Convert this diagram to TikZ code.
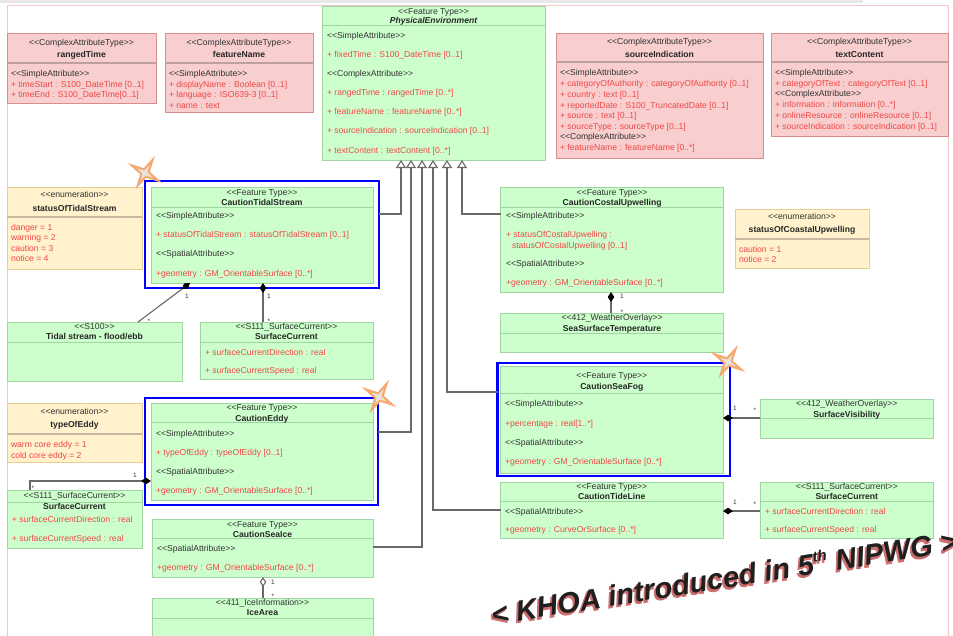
\documentclass[tikz,border=0pt]{standalone}
\usepackage{fontspec}
\newfontfamily\umlfont{Liberation Sans}
\newfontfamily\khoashfont{Liberation Sans}[FakeBold=2.5]
\usetikzlibrary{arrows.meta}
\definecolor{pinkfill}{RGB}{248,206,206}
\definecolor{pinkline}{RGB}{214,142,142}
\definecolor{pinkdivc}{RGB}{190,160,160}
\definecolor{yelfill}{RGB}{255,242,204}
\definecolor{yelline}{RGB}{232,204,148}
\definecolor{yeldivc}{RGB}{200,185,160}
\definecolor{grnfill}{RGB}{204,255,204}
\definecolor{grnline}{RGB}{160,212,160}
\definecolor{attrred}{RGB}{240,72,72}
\definecolor{stgray}{RGB}{50,50,50}
\definecolor{conn}{RGB}{105,105,105}
\definecolor{starorange}{RGB}{246,168,110}
\definecolor{starcore}{RGB}{232,228,220}
\definecolor{framepink}{RGB}{240,200,200}
\definecolor{shadowred}{RGB}{205,110,110}
\newcommand\LL{<\kern0pt<}
\newcommand\GG{>\kern0pt>}
\newcount\tn
\newcommand\UTxt[4]{\global\advance\tn by 1\relax\node[#1] (txt\the\tn) at (#2,#3) {#4};}
\newcommand\UHead[4]{\global\advance\tn by 1\relax\node[#3] (txt\the\tn) at (#1.north |- 0,#2) {#4};}
\newcommand\UBox[6]{\node[#2, anchor=north west, minimum width={#5-#3}, minimum height={#6-#4}] (#1) at (#3,#4) {};}
\newcommand\UDiv[3]{\draw[#3] (#1.west |- 0,#2) -- (#1.east |- 0,#2);}
\newcommand\UStar[3]{%
 \fill[starorange, shift={(#2,#3)}] (30:20) -- (75:5) -- (120:19) -- (165:5) -- (210:20) -- (255:5) -- (300:20) -- (345:5) -- cycle;
 \fill[starcore, shift={(#2,#3)}] (30:9) -- (75:2.5) -- (120:8) -- (165:2.5) -- (210:9) -- (255:2.5) -- (300:9) -- (345:2.5) -- cycle;
 \coordinate (#1) at (#2,#3);}
\newcommand\khoatext{< KHOA introduced in 5\raisebox{0.75ex}{\fontsize{15}{15}\selectfont th} NIPWG >}
\begin{document}
\begin{tikzpicture}[x=1pt,y=-1pt,
  every node/.style={inner sep=0pt, outer sep=0pt},
  pinkbox/.style={draw=pinkline, fill=pinkfill, line width=0.9pt},
  yelbox/.style={draw=yelline, fill=yelfill, line width=0.9pt},
  grnbox/.style={draw=grnline, fill=grnfill, line width=0.9pt},
  bluebox/.style={draw=blue, line width=2.6pt},
  pinkdiv/.style={draw=pinkdivc, line width=1.2pt},
  yeldiv/.style={draw=yeldivc, line width=1.2pt},
  grndiv/.style={draw=grnline, line width=0.9pt},
  stereo/.style={font=\umlfont\fontsize{8.6}{10}\selectfont, text=stgray, anchor=base},
  cname/.style={font=\umlfont\bfseries\fontsize{8.6}{10}\selectfont, text=black!85, anchor=base},
  cnamei/.style={font=\umlfont\bfseries\itshape\fontsize{8.6}{10}\selectfont, text=black!85, anchor=base},
  sec/.style={font=\umlfont\fontsize{8.6}{10}\selectfont, text=stgray, anchor=base west},
  attr/.style={font=\umlfont\fontsize{8.6}{10}\selectfont, text=attrred, anchor=base west},
  mult/.style={font=\umlfont\fontsize{6.5}{7}\selectfont, text=black!80, anchor=base},
  gen/.style={draw=conn, line width=1.1pt, arrows={-Triangle[length=8pt,width=10pt,fill=white]}},
  comp/.style={draw=conn, line width=1.1pt, arrows={Diamond[length=10pt,width=6.5pt,fill=black,color=black]-}},
  aggr/.style={draw=conn, line width=1.1pt, arrows={Diamond[length=10pt,width=6.5pt,fill=white]-}},
  big/.style={font=\umlfont\bfseries\itshape\fontsize{29}{31}\selectfont, rotate=9, anchor=base west},
  bigsh/.style={font=\khoashfont\bfseries\itshape\fontsize{29}{31}\selectfont, rotate=9, anchor=base west},
]
\useasboundingbox (0,0) rectangle (953,635);
\clip (0,0) rectangle (953,635);
\fill[white] (0,0) rectangle (953,635);
\fill[gray!18] (0,0) rectangle (863,2.6);
\draw[framepink, line width=1pt] (7,660) -- (7,5) -- (948,5) -- (948,660);

% ---------- rangedTime
\UBox{rt}{pinkbox}{7}{33}{156}{103}
\UDiv{rt}{63}{pinkdiv}
\UHead{rt}{45}{stereo}{\LL ComplexAttributeType\GG}
\UHead{rt}{57}{cname}{rangedTime}
\UTxt{sec}{11}{76}{\LL SimpleAttribute\GG}
\UTxt{attr}{11}{87}{+ timeStart : S100\_DateTime [0..1]}
\UTxt{attr}{11}{97}{+ timeEnd : S100\_DateTime[0..1]}

% ---------- featureName
\UBox{fn}{pinkbox}{165}{33}{313}{112}
\UDiv{fn}{63}{pinkdiv}
\UHead{fn}{45}{stereo}{\LL ComplexAttributeType\GG}
\UHead{fn}{57}{cname}{featureName}
\UTxt{sec}{169}{76}{\LL SimpleAttribute\GG}
\UTxt{attr}{169}{87}{+ displayName : Boolean [0..1]}
\UTxt{attr}{169}{97}{+ language : ISO639-3 [0..1]}
\UTxt{attr}{169}{108}{+ name : text}

% ---------- PhysicalEnvironment
\UBox{phys}{grnbox}{322}{6}{545}{160}
\UDiv{phys}{25}{grndiv}
\UHead{phys}{14}{stereo}{\LL Feature Type\GG}
\UHead{phys}{23}{cnamei}{PhysicalEnvironment}
\UTxt{sec}{327}{38}{\LL SimpleAttribute\GG}
\UTxt{attr}{327}{57}{+ fixedTime : S100\_DateTime [0..1]}
\UTxt{sec}{327}{76}{\LL ComplexAttribute\GG}
\UTxt{attr}{327}{95}{+ rangedTime : rangedTime [0..*]}
\UTxt{attr}{327}{114}{+ featureName : featureName [0..*]}
\UTxt{attr}{327}{133}{+ sourceIndication : sourceIndication [0..1]}
\UTxt{attr}{327}{153}{+ textContent : textContent [0..*]}

% ---------- sourceIndication
\UBox{si}{pinkbox}{556}{33}{763}{158}
\UDiv{si}{62}{pinkdiv}
\UHead{si}{44}{stereo}{\LL ComplexAttributeType\GG}
\UHead{si}{57}{cname}{sourceIndication}
\UTxt{sec}{560}{75}{\LL SimpleAttribute\GG}
\UTxt{attr}{560}{86}{+ categoryOfAuthority : categoryOfAuthority [0..1]}
\UTxt{attr}{560}{97}{+ country : text [0..1]}
\UTxt{attr}{560}{108}{+ reportedDate : S100\_TruncatedDate [0..1]}
\UTxt{attr}{560}{118}{+ source : text [0..1]}
\UTxt{attr}{560}{129}{+ sourceType : sourceType [0..1]}
\UTxt{sec}{560}{139}{\LL ComplexAttribute\GG}
\UTxt{attr}{560}{150}{+ featureName : featureName [0..*]}

% ---------- textContent
\UBox{tc}{pinkbox}{771}{33}{948}{136}
\UDiv{tc}{62}{pinkdiv}
\UHead{tc}{44}{stereo}{\LL ComplexAttributeType\GG}
\UHead{tc}{57}{cname}{textContent}
\UTxt{sec}{775}{75}{\LL SimpleAttribute\GG}
\UTxt{attr}{775}{86}{+ categoryOfText : categoryOfText [0..1]}
\UTxt{sec}{775}{96}{\LL ComplexAttribute\GG}
\UTxt{attr}{775}{107}{+ information : information [0..*]}
\UTxt{attr}{775}{118}{+ onlineResource : onlineResource [0..1]}
\UTxt{attr}{775}{129}{+ sourceIndication : sourceIndication [0..1]}

% ---------- statusOfTidalStream
\UBox{sots}{yelbox}{7}{187}{142}{269}
\UDiv{sots}{217}{yeldiv}
\UHead{sots}{197}{stereo}{\LL enumeration\GG}
\UHead{sots}{211}{cname}{statusOfTidalStream}
\UTxt{attr}{11}{230}{danger = 1}
\UTxt{attr}{11}{240}{warning = 2}
\UTxt{attr}{11}{251}{caution = 3}
\UTxt{attr}{11}{261}{notice = 4}

% ---------- CautionTidalStream
\UBox{tsf}{bluebox}{145}{181}{379}{288}
\UBox{ts}{grnbox}{151}{187}{373}{283}
\UDiv{ts}{207}{grndiv}
\UHead{ts}{195}{stereo}{\LL Feature Type\GG}
\UHead{ts}{205.5}{cname}{CautionTidalStream}
\UTxt{sec}{156}{218}{\LL SimpleAttribute\GG}
\UTxt{attr}{156}{237}{+ statusOfTidalStream : statusOfTidalStream [0..1]}
\UTxt{sec}{156}{256}{\LL SpatialAttribute\GG}
\UTxt{attr}{156}{276}{+geometry : GM\_OrientableSurface [0..*]}

% ---------- Tidal stream flood/ebb
\UBox{flood}{grnbox}{7}{322}{182}{381}
\UDiv{flood}{342}{grndiv}
\UHead{flood}{329}{stereo}{\LL S100\GG}
\UHead{flood}{339.5}{cname}{Tidal stream - flood/ebb}

% ---------- SurfaceCurrent (top)
\UBox{sct}{grnbox}{200}{322}{373}{379}
\UDiv{sct}{342}{grndiv}
\UHead{sct}{329}{stereo}{\LL S111\_SurfaceCurrent\GG}
\UHead{sct}{339.5}{cname}{SurfaceCurrent}
\UTxt{attr}{205}{355}{+ surfaceCurrentDirection : real}
\UTxt{attr}{205}{373}{+ surfaceCurrentSpeed : real}

% ---------- CautionCostalUpwelling
\UBox{cu}{grnbox}{500.6}{187}{723.6}{292}
\UDiv{cu}{207}{grndiv}
\UHead{cu}{195}{stereo}{\LL Feature Type\GG}
\UHead{cu}{205.5}{cname}{CautionCostalUpwelling}
\UTxt{sec}{506}{218}{\LL SimpleAttribute\GG}
\UTxt{attr}{506}{237}{+ statusOfCostalUpwelling :}
\UTxt{attr}{512}{248}{statusOfCostalUpwelling [0..1]}
\UTxt{sec}{506}{266}{\LL SpatialAttribute\GG}
\UTxt{attr}{506}{285}{+geometry : GM\_OrientableSurface [0..*]}

% ---------- statusOfCoastalUpwelling
\UBox{socu}{yelbox}{735}{209}{869}{268}
\UDiv{socu}{239}{yeldiv}
\UHead{socu}{219}{stereo}{\LL enumeration\GG}
\UHead{socu}{232}{cname}{statusOfCoastalUpwelling}
\UTxt{attr}{739}{252}{caution = 1}
\UTxt{attr}{739}{262}{notice = 2}

% ---------- SeaSurfaceTemperature
\UBox{sst}{grnbox}{500.6}{313}{723.6}{352}
\UDiv{sst}{333}{grndiv}
\UHead{sst}{320}{stereo}{\LL 412\_WeatherOverlay\GG}
\UHead{sst}{331}{cname}{SeaSurfaceTemperature}

% ---------- CautionSeaFog
\UBox{sff}{bluebox}{497.6}{363}{730}{476}
\UBox{sf}{grnbox}{500.6}{366}{723}{473}
\UDiv{sf}{393}{grndiv}
\UHead{sf}{378}{stereo}{\LL Feature Type\GG}
\UHead{sf}{389}{cname}{CautionSeaFog}
\UTxt{sec}{505}{406}{\LL SimpleAttribute\GG}
\UTxt{attr}{505}{426}{+percentage : real[1..*]}
\UTxt{sec}{505}{445}{\LL SpatialAttribute\GG}
\UTxt{attr}{505}{464}{+geometry : GM\_OrientableSurface [0..*]}

% ---------- SurfaceVisibility
\UBox{sv}{grnbox}{760}{399}{933.6}{438}
\UDiv{sv}{418}{grndiv}
\UHead{sv}{406}{stereo}{\LL 412\_WeatherOverlay\GG}
\UHead{sv}{417}{cname}{SurfaceVisibility}

% ---------- CautionTideLine
\UBox{tl}{grnbox}{500.6}{482}{723}{538}
\UDiv{tl}{501}{grndiv}
\UHead{tl}{489}{stereo}{\LL Feature Type\GG}
\UHead{tl}{499.5}{cname}{CautionTideLine}
\UTxt{sec}{505}{514}{\LL SpatialAttribute\GG}
\UTxt{attr}{505}{532}{+geometry : CurveOrSurface [0..*]}

% ---------- SurfaceCurrent (right)
\UBox{scr}{grnbox}{760}{482}{933.6}{538}
\UDiv{scr}{501}{grndiv}
\UHead{scr}{489}{stereo}{\LL S111\_SurfaceCurrent\GG}
\UHead{scr}{499.5}{cname}{SurfaceCurrent}
\UTxt{attr}{765}{514}{+ surfaceCurrentDirection : real}
\UTxt{attr}{765}{532}{+ surfaceCurrentSpeed : real}

% ---------- typeOfEddy
\UBox{toe}{yelbox}{7}{403}{142}{462}
\UDiv{toe}{434}{yeldiv}
\UHead{toe}{414}{stereo}{\LL enumeration\GG}
\UHead{toe}{427}{cname}{typeOfEddy}
\UTxt{attr}{11}{447}{warm core eddy = 1}
\UTxt{attr}{11}{458}{cold core eddy = 2}

% ---------- CautionEddy
\UBox{edf}{bluebox}{145}{398}{378}{505}
\UBox{ed}{grnbox}{151}{403}{373}{500}
\UDiv{ed}{422}{grndiv}
\UHead{ed}{410}{stereo}{\LL Feature Type\GG}
\UHead{ed}{421}{cname}{CautionEddy}
\UTxt{sec}{156}{436}{\LL SimpleAttribute\GG}
\UTxt{attr}{156}{455}{+ typeOfEddy : typeOfEddy [0..1]}
\UTxt{sec}{156}{474}{\LL SpatialAttribute\GG}
\UTxt{attr}{156}{493}{+geometry : GM\_OrientableSurface [0..*]}

% ---------- SurfaceCurrent (left)
\UBox{scl}{grnbox}{7}{490}{142}{548}
\UDiv{scl}{502}{grndiv}
\UHead{scl}{498}{stereo}{\LL S111\_SurfaceCurrent\GG}
\UHead{scl}{509}{cname}{SurfaceCurrent}
\UTxt{attr}{12}{522}{+ surfaceCurrentDirection : real}
\UTxt{attr}{12}{541}{+ surfaceCurrentSpeed : real}

% ---------- CautionSeaIce
\UBox{ice}{grnbox}{152}{519}{373}{577}
\UDiv{ice}{538}{grndiv}
\UHead{ice}{527}{stereo}{\LL Feature Type\GG}
\UHead{ice}{537}{cname}{CautionSeaIce}
\UTxt{sec}{157}{551}{\LL SpatialAttribute\GG}
\UTxt{attr}{157}{570}{+geometry : GM\_OrientableSurface [0..*]}

% ---------- IceArea
\UBox{icea}{grnbox}{152}{598}{373}{650}
\UDiv{icea}{618}{grndiv}
\UHead{icea}{605}{stereo}{\LL 411\_IceInformation\GG}
\UHead{icea}{615}{cname}{IceArea}

% ---------- generalizations
\draw[gen] (tsf.east |- 0,214) -| (401,0 |- phys.south);
\draw[gen] (edf.east |- 0,432) -| (411,0 |- phys.south);
\draw[gen] (ice.east |- 0,547) -| (422,0 |- phys.south);
\draw[gen] (tl.west |- 0,510) -| (433,0 |- phys.south);
\draw[gen] (sff.west |- 0,392) -| (447,0 |- phys.south);
\draw[gen] (cu.west |- 0,214) -| (462,0 |- phys.south);

% ---------- compositions / aggregation
\draw[comp] (ts.south -| 190,0) -- (flood.north -| 138,0);
\draw[comp] (ts.south -| 263,0) -- (sct.north -| 263,0);
\draw[comp] (cu.south -| 611,0) -- (sst.north -| 611,0);
\draw[comp] (sf.east |- 0,418) -- (sv.west |- 0,418);
\draw[comp] (tl.east |- 0,511) -- (scr.west |- 0,511);
\draw[comp] (ed.west |- 0,481) -| (scl.north -| 30,0);
\draw[aggr] (ice.south -| 263,0) -- (icea.north -| 263,0);

\UTxt{mult}{187}{298}{1}
\UTxt{mult}{149}{323}{*}
\UTxt{mult}{269}{298}{1}
\UTxt{mult}{269}{323}{*}
\UTxt{mult}{622}{298}{1}
\UTxt{mult}{622}{314}{*}
\UTxt{mult}{735}{410}{1}
\UTxt{mult}{755}{412}{*}
\UTxt{mult}{735}{504}{1}
\UTxt{mult}{755}{506}{*}
\UTxt{mult}{135}{477}{1}
\UTxt{mult}{33}{490}{*}
\UTxt{mult}{273}{584}{1}
\UTxt{mult}{273}{598}{*}

% ---------- stars
\UStar{star1}{145}{173}
\UStar{star2}{379}{397}
\UStar{star3}{728}{362}

% ---------- KHOA note
\node[bigsh, text=shadowred] (khoash) at (491.3,626.8) {\khoatext};
\node[big, text=black!88] (khoa) at (493,625) {\khoatext};
\end{tikzpicture}
\end{document}
